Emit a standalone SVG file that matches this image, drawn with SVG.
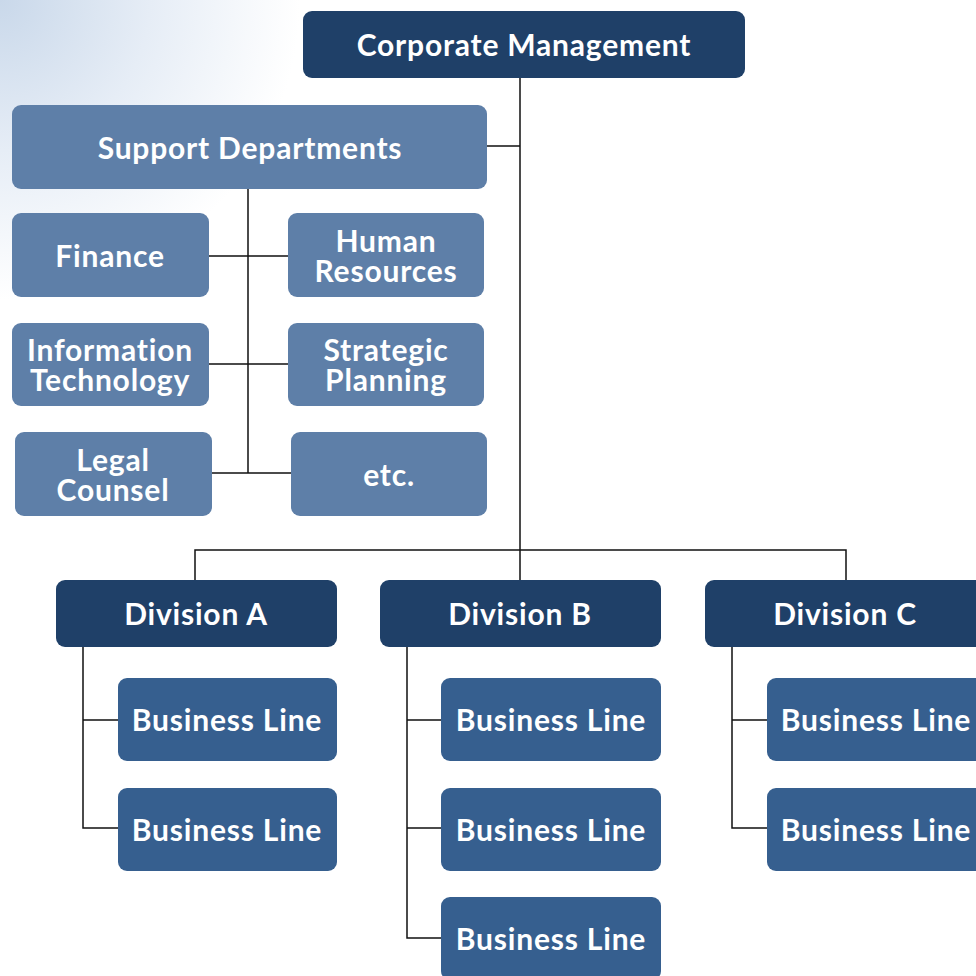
<svg xmlns="http://www.w3.org/2000/svg" width="976" height="976" viewBox="0 0 976 976">
<defs>
<radialGradient id="glow" cx="0" cy="0" r="300" gradientUnits="userSpaceOnUse">
<stop offset="0" stop-color="#c9d8ea"/>
<stop offset="0.5" stop-color="#e6edf6"/>
<stop offset="1" stop-color="#ffffff"/>
</radialGradient>
<style>
.top{fill:#1f4068}
.sup{fill:#5e7fa8}
.bl{fill:#365f8f}
text{font-family:Lato,"Open Sans","Liberation Sans",sans-serif;font-weight:bold;fill:#ffffff;text-anchor:middle;font-size:30px;letter-spacing:0.8px}
.c{stroke:#111;stroke-width:1.5;fill:none}
</style>
</defs>
<rect width="976" height="976" fill="#ffffff"/>
<rect width="320" height="320" fill="url(#glow)"/>
<g id="connectors" class="c">
<path d="M520 78V550M487 146H520M195 580V550H846V580M520 550V580"/>
<path d="M248 189V473M209 256H288M209 364H288M212 473H291"/>
<path d="M83 647V828H118M83 720H118"/>
<path d="M407 647V938H441M407 720H441M407 828H441"/>
<path d="M732 647V828H767M732 720H767"/>
</g>
<g id="corporate"><rect class="top" x="303" y="11" width="442" height="67" rx="9"/><text x="524" y="56">Corporate Management</text></g>
<g id="support"><rect class="sup" x="12" y="105" width="475" height="84" rx="9"/><text x="250" y="159">Support Departments</text></g>
<g id="finance"><rect class="sup" x="12" y="213" width="197" height="84" rx="9"/><text x="110" y="267">Finance</text></g>
<g id="hr"><rect class="sup" x="288" y="213" width="196" height="84" rx="9"/><text x="386" y="252">Human<tspan x="386" dy="30">Resources</tspan></text></g>
<g id="it"><rect class="sup" x="12" y="323" width="197" height="83" rx="9"/><text x="110" y="361">Information<tspan x="110" dy="30">Technology</tspan></text></g>
<g id="strategic"><rect class="sup" x="288" y="323" width="196" height="83" rx="9"/><text x="386" y="361">Strategic<tspan x="386" dy="30">Planning</tspan></text></g>
<g id="legal"><rect class="sup" x="15" y="432" width="197" height="84" rx="9"/><text x="113" y="471">Legal<tspan x="113" dy="30">Counsel</tspan></text></g>
<g id="etc"><rect class="sup" x="291" y="432" width="196" height="84" rx="9"/><text x="389" y="486">etc.</text></g>
<g id="divA"><rect class="top" x="56" y="580" width="281" height="67" rx="9"/><text x="196" y="625">Division A</text></g>
<g id="divB"><rect class="top" x="380" y="580" width="281" height="67" rx="9"/><text x="520" y="625">Division B</text></g>
<g id="divC"><rect class="top" x="705" y="580" width="281" height="67" rx="9"/><text x="845" y="625">Division C</text></g>
<g id="blA1"><rect class="bl" x="118" y="678" width="219" height="83" rx="9"/><text x="227" y="731">Business Line</text></g>
<g id="blA2"><rect class="bl" x="118" y="788" width="219" height="83" rx="9"/><text x="227" y="841">Business Line</text></g>
<g id="blB1"><rect class="bl" x="441" y="678" width="220" height="83" rx="9"/><text x="551" y="731">Business Line</text></g>
<g id="blB2"><rect class="bl" x="441" y="788" width="220" height="83" rx="9"/><text x="551" y="841">Business Line</text></g>
<g id="blB3"><rect class="bl" x="441" y="897" width="220" height="83" rx="9"/><text x="551" y="950">Business Line</text></g>
<g id="blC1"><rect class="bl" x="767" y="678" width="220" height="83" rx="9"/><text x="876" y="731">Business Line</text></g>
<g id="blC2"><rect class="bl" x="767" y="788" width="220" height="83" rx="9"/><text x="876" y="841">Business Line</text></g>
</svg>
